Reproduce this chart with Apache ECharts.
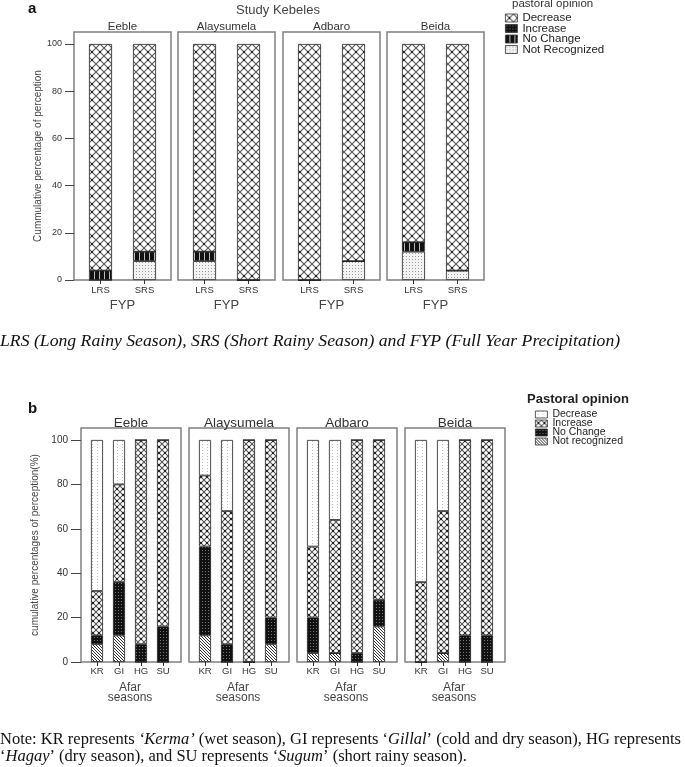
<!DOCTYPE html>
<html>
<head>
<meta charset="utf-8">
<script src="https://cdn.jsdelivr.net/npm/echarts@6/dist/echarts.min.js"></script>
<style>
	html, body { margin: 0; padding: 0; background: #fff; }
	#chart { width: 685px; height: 767px; }
</style>
</head>
<body>
<div id="chart"></div>
<script>
	// study kebeles (facets) and the x categories of each panel
	const kebeles = ['Eeble', 'Alaysumela', 'Adbaro', 'Beida']
	const fypCats = ['LRS', 'SRS']
	const seasonCats = ['KR', 'GI', 'HG', 'SU']
	const yTicks = [0, 20, 40, 60, 80, 100]

	// panel a, per kebele: [LRS, SRS]
	const aNotRecognized = [[0, 8], [8, 0], [0, 8], [12, 4]]
	const aNoChange = [[4, 4], [4, 0], [0, 0], [4, 0]]
	const aIncrease = [[0, 0], [0, 0], [0, 0], [0, 0]]
	const aDecrease = [[96, 88], [88, 100], [100, 92], [84, 96]]

	// panel b, per kebele: [KR, GI, HG, SU]
	const bNotRecognized = [[8, 12, 0, 0], [12, 0, 0, 8], [4, 4, 0, 16], [0, 4, 0, 0]]
	const bNoChange = [[4, 24, 8, 16], [40, 8, 0, 12], [16, 0, 4, 12], [0, 0, 12, 12]]
	const bIncrease = [[20, 44, 92, 84], [32, 60, 100, 80], [32, 60, 96, 72], [36, 64, 88, 88]]
	const bDecrease = [[68, 20, 0, 0], [16, 32, 0, 0], [48, 36, 0, 0], [64, 32, 0, 0]]

	function pattern(w, h, draw) {
		const c = document.createElement('canvas')
		c.width = w
		c.height = h
		const g = c.getContext('2d')
		draw(g)
		return { image: c, repeat: 'repeat' }
	}

	function cross(size) {
		return pattern(size, size, g => {
			g.fillStyle = '#fff'
			g.fillRect(0, 0, size, size)
			g.strokeStyle = '#555'
			g.lineWidth = 1.1
			g.beginPath()
			g.moveTo(0, 0); g.lineTo(size, size)
			g.moveTo(size, 0); g.lineTo(0, size)
			g.stroke()
			g.fillStyle = '#222'
			g.fillRect(size / 2 - 1, size / 2 - 1, 2, 2)
		})
	}

	const pCrossA = cross(8)
	const pCrossB = cross(6)
	const pDarkDots = pattern(3, 3, g => {
		g.fillStyle = '#111'; g.fillRect(0, 0, 3, 3)
		g.fillStyle = '#777'; g.fillRect(1, 1, 1, 1)
	})
	const pBars = pattern(5, 1, g => {
		g.fillStyle = '#111'; g.fillRect(0, 0, 5, 1)
		g.fillStyle = '#bbb'; g.fillRect(4, 0, 1, 1)
	})
	const pLightDots = pattern(3, 3, g => {
		g.fillStyle = '#f3f3f3'; g.fillRect(0, 0, 3, 3)
		g.fillStyle = '#999'; g.fillRect(1, 1, 1, 1)
	})
	const pDiag = pattern(3, 3, g => {
		g.fillStyle = '#fff'; g.fillRect(0, 0, 3, 3)
		g.fillStyle = '#333'
		g.fillRect(0, 0, 1, 1); g.fillRect(1, 1, 1, 1); g.fillRect(2, 2, 1, 1)
	})
	const pPlain = pattern(5, 3, g => {
		g.fillStyle = '#fff'; g.fillRect(0, 0, 5, 3)
		g.fillStyle = '#bbb'; g.fillRect(2, 0, 1, 1)
	})

	const sans = 'Liberation Sans, Arial, sans-serif'
	const serif = 'Liberation Serif, Times New Roman, serif'

	const panels = [{
		key: 'a',
		cats: fypCats,
		top: 32, height: 248, yMax: 105.08,
		lefts: [74, 178, 283, 387], width: 97, inset: 4.5, inner: 88,
		barWidth: 23, stripSize: 11.5, stripGap: -1,
		tickLen: 9, tickLabel: 9, tickMargin: 12,
		xName: 'FYP', xNameGap: 20, xNameSize: 13, labelSize: 9.5, labelMargin: 5,
		yName: 'Cummulative percentage of perception', yNameGap: 31,
		layers: [
			{ name: 'Not Recognized', data: aNotRecognized, fill: pLightDots },
			{ name: 'No Change', data: aNoChange, fill: pBars },
			{ name: 'Increase', data: aIncrease, fill: pDarkDots },
			{ name: 'Decrease', data: aDecrease, fill: pCrossA }
		]
	}, {
		key: 'b',
		cats: seasonCats,
		top: 428, height: 234, yMax: 105.4,
		lefts: [81, 189, 297, 405], width: 100, inset: 5, inner: 88,
		barWidth: 12, stripSize: 13.5, stripGap: -2,
		tickLen: 10, tickLabel: 10, tickMargin: 13,
		xName: 'Afar\nseasons', xNameGap: 21, xNameSize: 12, labelSize: 9.5, labelMargin: 4,
		yName: 'cumulative percentages of perception(%)', yNameGap: 41,
		layers: [
			{ name: 'Not recognized', data: bNotRecognized, fill: pDiag },
			{ name: 'No Change', data: bNoChange, fill: pDarkDots },
			{ name: 'Increase', data: bIncrease, fill: pCrossB },
			{ name: 'Decrease', data: bDecrease, fill: pPlain }
		]
	}]

	const grid = []
	const xAxis = []
	const yAxis = []
	const series = []

	panels.forEach(p => {
		kebeles.forEach((k, f) => {
			// frame box with strip title and (first facet only) the y axis
			const frame = grid.length
			grid.push({
				left: p.lefts[f], top: p.top, width: p.width, height: p.height,
				show: true, borderColor: '#808080', borderWidth: 1.5, backgroundColor: 'transparent'
			})
			xAxis.push({
				gridIndex: frame, type: 'category', data: [''], position: 'top',
				axisLine: { show: false }, axisTick: { show: false }, axisLabel: { show: false },
				name: k, nameLocation: 'middle', nameGap: p.stripGap,
				nameTextStyle: { fontFamily: sans, fontSize: p.stripSize, color: '#333' }
			})
			yAxis.push({
				gridIndex: frame, type: 'value', min: 0, max: p.yMax, show: f === 0,
				axisLine: { show: false },
				axisTick: { show: true, length: p.tickLen, customValues: yTicks, lineStyle: { color: '#444' } },
				axisLabel: { customValues: yTicks, fontFamily: sans, fontSize: p.tickLabel, color: '#333', margin: p.tickMargin },
				splitLine: { show: false },
				name: p.yName, nameLocation: 'middle', nameRotate: 90, nameGap: p.yNameGap,
				nameTextStyle: { fontFamily: sans, fontSize: 10, color: '#444' }
			})

			// data grid, a little narrower than the frame
			const inner = grid.length
			grid.push({ left: p.lefts[f] + p.inset, top: p.top, width: p.inner, height: p.height })
			xAxis.push({
				gridIndex: inner, type: 'category', data: p.cats,
				axisLine: { show: false },
				axisTick: { show: true, alignWithLabel: true, length: 4, lineStyle: { color: '#333' } },
				axisLabel: { fontFamily: sans, fontSize: p.labelSize, color: '#333', margin: p.labelMargin },
				name: p.xName, nameLocation: 'middle', nameGap: p.xNameGap,
				nameTextStyle: { fontFamily: sans, fontSize: p.xNameSize, color: '#444', lineHeight: 10 }
			})
			yAxis.push({ gridIndex: inner, type: 'value', min: 0, max: p.yMax, show: false, splitLine: { show: false } })

			p.layers.forEach(l => {
				series.push({
					name: l.name,
					type: 'bar',
					xAxisIndex: inner,
					yAxisIndex: inner,
					stack: p.key + f,
					barWidth: p.barWidth,
					data: l.data[f],
					itemStyle: { color: l.fill, borderColor: '#222', borderWidth: 0.8 },
					emphasis: { disabled: true }
				})
			})
		})
	})

	function legendData(p) {
		return p.layers.slice().reverse().map(l => ({
			name: l.name,
			itemStyle: { color: l.fill, borderColor: '#333', borderWidth: 0.8 }
		}))
	}

	let option = {
		animation: false,
		backgroundColor: '#fff',
		title: [{
			text: 'a', left: 28, top: 1, padding: 0,
			textStyle: { fontFamily: sans, fontSize: 15, fontWeight: 'bold', color: '#111' }
		}, {
			text: 'Study Kebeles', left: 278, top: 4, padding: 0, textAlign: 'center',
			textStyle: { fontFamily: sans, fontSize: 13, fontWeight: 'normal', color: '#444' }
		}, {
			text: 'pastoral opinion', left: 512, top: -2, padding: 0,
			textStyle: { fontFamily: sans, fontSize: 11.5, fontWeight: 'normal', color: '#333' }
		}, {
			text: 'LRS (Long Rainy Season), SRS (Short Rainy Season) and FYP (Full Year Precipitation)',
			left: 0, top: 332, padding: 0,
			textStyle: { fontFamily: serif, fontStyle: 'italic', fontSize: 17.7, fontWeight: 'normal', color: '#111' }
		}, {
			text: 'b', left: 28, top: 401, padding: 0,
			textStyle: { fontFamily: sans, fontSize: 15, fontWeight: 'bold', color: '#111' }
		}, {
			text: 'Pastoral opinion', left: 527, top: 393, padding: 0,
			textStyle: { fontFamily: sans, fontSize: 13, fontWeight: 'bold', color: '#222' }
		}, {
			text: 'Note: KR represents {i|‘Kerma’} (wet season), GI represents ‘{i|Gillal}’ (cold and dry season), HG represents\n‘{i|Hagay}’ (dry season), and SU represents ‘{i|Sugum}’ (short rainy season).',
			left: 0, top: 731, padding: 0,
			textStyle: {
				fontFamily: serif, fontSize: 16.5, fontWeight: 'normal', color: '#111', lineHeight: 17,
				rich: { i: { fontFamily: serif, fontSize: 16.5, fontStyle: 'italic', color: '#111', lineHeight: 17 } }
			}
		}],
		legend: [{
			left: 505, top: 12, orient: 'vertical', padding: 0,
			itemWidth: 12, itemHeight: 8, itemGap: -1.5,
			icon: 'rect', selectedMode: false,
			textStyle: { fontFamily: sans, fontSize: 11.5, color: '#222' },
			data: legendData(panels[0])
		}, {
			left: 535, top: 409, orient: 'vertical', padding: 0,
			itemWidth: 12, itemHeight: 7, itemGap: -2,
			icon: 'rect', selectedMode: false,
			textStyle: { fontFamily: sans, fontSize: 10.5, color: '#222' },
			data: legendData(panels[1])
		}],
		grid: grid,
		xAxis: xAxis,
		yAxis: yAxis,
		series: series
	}

	const dom = echarts.init(document.getElementById('chart'))
	dom.setOption(option)
</script>
</body>
</html>
